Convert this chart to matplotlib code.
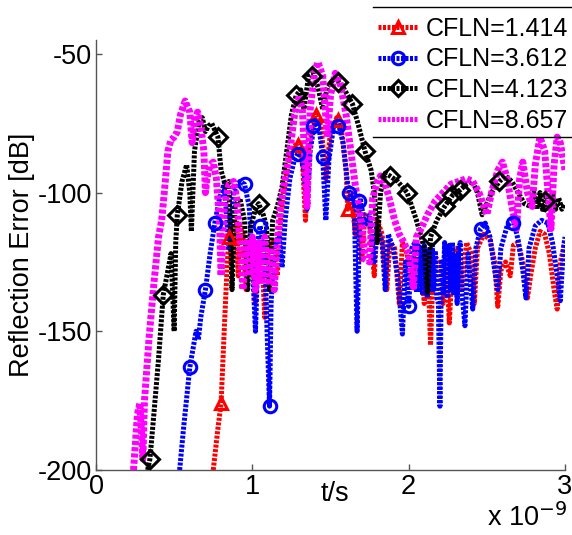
import matplotlib
matplotlib.use("Agg")
import matplotlib.pyplot as plt
from matplotlib.lines import Line2D

plt.rcParams["font.family"] = ["Liberation Sans", "DejaVu Sans"]
plt.rcParams["axes.unicode_minus"] = False

# ---- data: time in units of 1e-9 s, reflection error in dB ----
red_pts = [
    (0.75, -200), (0.78, -185), (0.80, -176), (0.82, -150), (0.84, -125), (0.85, -116),
    (0.86, -112), (0.87, -125), (0.88, -112), (0.90, -110), (0.91, -130), (0.92, -112),
    (0.94, -115), (0.96, -135), (0.98, -118), (1.00, -120), (1.02, -140), (1.04, -118),
    (1.06, -122), (1.08, -145), (1.10, -120), (1.13, -118), (1.16, -130), (1.18, -110),
    (1.20, -100), (1.23, -90), (1.26, -84), (1.29, -82), (1.32, -88), (1.34, -110),
    (1.36, -85), (1.39, -74), (1.41, -72), (1.44, -76), (1.47, -95), (1.50, -78),
    (1.54, -73), (1.57, -77), (1.60, -92), (1.61, -106), (1.63, -100), (1.66, -115),
    (1.68, -105), (1.70, -125), (1.72, -108), (1.75, -112), (1.78, -130), (1.80, -110),
    (1.83, -115), (1.86, -135), (1.88, -118), (1.91, -120), (1.94, -140), (1.96, -118),
    (1.99, -122), (2.02, -135), (2.04, -118), (2.07, -120), (2.10, -140), (2.12, -122),
    (2.14, -155), (2.16, -122), (2.19, -125), (2.22, -140), (2.24, -122), (2.26, -147),
    (2.28, -125), (2.31, -120), (2.34, -135), (2.37, -118), (2.40, -122), (2.42, -140),
    (2.44, -120), (2.48, -115), (2.52, -117), (2.55, -125), (2.57, -141), (2.59, -128),
    (2.62, -125), (2.65, -130), (2.67, -119), (2.70, -118), (2.73, -125), (2.76, -138),
    (2.78, -130), (2.81, -120), (2.84, -114), (2.87, -115), (2.90, -122), (2.93, -135),
    (2.95, -142), (2.97, -125), (3.00, -118),
]
red_marks = [(0.80, -176), (0.85, -116), (1.29, -83), (1.41, -72), (1.55, -74), (1.61, -106)]

blue_pts = [
    (0.535, -200), (0.56, -185), (0.60, -163), (0.64, -150), (0.655, -153), (0.67, -145),
    (0.70, -135), (0.73, -122), (0.76, -111), (0.79, -102), (0.82, -97), (0.85, -120),
    (0.88, -100), (0.92, -96), (0.95, -97), (0.98, -105), (1.00, -125), (1.02, -150),
    (1.04, -115), (1.05, -112), (1.08, -125), (1.10, -160), (1.11, -177), (1.12, -140),
    (1.14, -120), (1.17, -115), (1.19, -127), (1.21, -110), (1.24, -95), (1.27, -88),
    (1.30, -85), (1.33, -92), (1.35, -106), (1.37, -85), (1.40, -74), (1.43, -78),
    (1.45, -87), (1.47, -110), (1.49, -88), (1.52, -76), (1.55, -75), (1.58, -82),
    (1.61, -97), (1.63, -102), (1.65, -100), (1.67, -150), (1.69, -102), (1.72, -112),
    (1.75, -108), (1.78, -125), (1.80, -112), (1.83, -118), (1.85, -135), (1.87, -115),
    (1.90, -120), (1.93, -130), (1.96, -151), (1.98, -125), (2.00, -141), (2.02, -120),
    (2.04, -118), (2.05, -136), (2.06, -119), (2.07, -135), (2.08, -120), (2.09, -137),
    (2.10, -119), (2.11, -134), (2.12, -138), (2.13, -120), (2.14, -136), (2.15, -119),
    (2.16, -135), (2.17, -121), (2.18, -138), (2.19, -140), (2.20, -177), (2.21, -125),
    (2.22, -137), (2.23, -118), (2.24, -136), (2.25, -138), (2.26, -119), (2.27, -135),
    (2.28, -118), (2.29, -137), (2.30, -122), (2.31, -140), (2.32, -120), (2.33, -118),
    (2.34, -136), (2.36, -148), (2.38, -122), (2.41, -142),
    (2.43, -120), (2.46, -113), (2.49, -111), (2.52, -116), (2.55, -128), (2.57, -135),
    (2.59, -120), (2.63, -112), (2.67, -110), (2.70, -117), (2.73, -128), (2.75, -138),
    (2.77, -120), (2.81, -112), (2.85, -110), (2.89, -111), (2.92, -118), (2.95, -130),
    (2.97, -139), (2.99, -120), (3.00, -116),
]
blue_marks = [(0.60, -163), (0.70, -135), (0.76, -111), (0.95, -97), (1.05, -112),
              (1.11, -177), (1.29, -86), (1.39, -76), (1.45, -87), (1.55, -76),
              (1.62, -100), (1.68, -103), (2.00, -141), (2.46, -113), (2.67, -111)]

black_pts = [
    (0.33, -200), (0.345, -196), (0.37, -180), (0.40, -160), (0.43, -137), (0.46, -128),
    (0.48, -122), (0.50, -150), (0.51, -118), (0.52, -108), (0.55, -96), (0.58, -90),
    (0.60, -100), (0.61, -114), (0.63, -85), (0.66, -74), (0.68, -73), (0.70, -78),
    (0.72, -76), (0.74, -75), (0.78, -80), (0.80, -92), (0.83, -98), (0.85, -96),
    (0.87, -135), (0.89, -105), (0.92, -102), (0.95, -110), (0.97, -135), (0.99, -112),
    (1.02, -106), (1.04, -104), (1.07, -108), (1.09, -112), (1.11, -135), (1.13, -110),
    (1.16, -105), (1.19, -98), (1.22, -85), (1.25, -72), (1.28, -65), (1.31, -63),
    (1.33, -70), (1.36, -58), (1.39, -57), (1.42, -62), (1.45, -70), (1.48, -62),
    (1.52, -59), (1.55, -60), (1.58, -62), (1.61, -65), (1.64, -68), (1.68, -76),
    (1.72, -85), (1.76, -92), (1.78, -100), (1.80, -118), (1.82, -100), (1.85, -93),
    (1.88, -94), (1.93, -96), (1.99, -100), (2.05, -110), (2.10, -120), (2.12, -136),
    (2.14, -116), (2.18, -110), (2.23, -105), (2.28, -101), (2.33, -99), (2.37, -97),
    (2.41, -96), (2.44, -100), (2.47, -108), (2.53, -100), (2.58, -96), (2.62, -94),
    (2.66, -96), (2.70, -100), (2.74, -104), (2.78, -105), (2.80, -100), (2.82, -106),
    (2.84, -100), (2.86, -107), (2.88, -101), (2.90, -106), (2.92, -100), (2.94, -106),
    (2.96, -102), (2.98, -106), (3.00, -104),
]
black_marks = [(0.345, -196), (0.43, -137), (0.52, -108), (0.78, -80), (1.04, -104),
               (1.28, -65), (1.38, -58), (1.55, -60), (1.64, -68), (1.72, -85),
               (1.88, -94), (1.99, -100), (2.14, -116), (2.23, -105), (2.28, -101),
               (2.33, -99), (2.58, -96), (2.87, -103)]

magenta_pts = [
    (0.24, -200), (0.265, -180), (0.28, -176), (0.29, -185), (0.30, -196), (0.31, -175),
    (0.34, -152), (0.37, -133), (0.40, -116), (0.42, -110), (0.44, -98), (0.46, -85),
    (0.48, -81), (0.50, -80), (0.52, -78), (0.54, -72), (0.57, -67), (0.60, -71),
    (0.615, -82), (0.63, -74), (0.65, -71), (0.67, -76), (0.69, -85), (0.70, -100),
    (0.71, -95), (0.73, -90), (0.75, -89), (0.77, -95), (0.79, -110), (0.80, -130),
    (0.82, -105), (0.85, -97), (0.88, -96), (0.90, -102), (0.92, -118), (0.94, -135),
    (0.96, -118), (0.98, -130), (1.00, -116), (1.02, -135), (1.04, -118), (1.06, -133),
    (1.08, -116), (1.10, -132), (1.12, -120), (1.14, -135), (1.16, -118), (1.18, -105),
    (1.21, -95), (1.24, -85), (1.27, -72), (1.30, -65), (1.32, -70), (1.35, -105),
    (1.37, -70), (1.40, -56), (1.42, -53), (1.45, -58), (1.48, -80), (1.50, -65),
    (1.53, -57), (1.56, -60), (1.60, -72), (1.63, -85), (1.66, -98), (1.68, -105),
    (1.70, -112), (1.72, -124), (1.75, -125), (1.77, -102), (1.80, -96), (1.82, -94),
    (1.85, -97), (1.88, -103), (1.91, -110), (1.94, -115), (1.97, -118), (2.00, -122),
    (2.03, -134), (2.05, -116), (2.08, -113), (2.12, -108), (2.17, -103), (2.22, -100),
    (2.27, -97), (2.32, -96), (2.37, -95), (2.41, -96), (2.45, -100), (2.50, -108),
    (2.53, -100), (2.57, -92), (2.60, -89), (2.63, -95), (2.66, -105), (2.69, -113),
    (2.71, -95), (2.73, -89), (2.76, -100), (2.79, -105), (2.81, -90), (2.84, -80),
    (2.87, -85), (2.91, -113), (2.93, -90), (2.95, -80), (2.97, -82), (3.00, -92),
]

labels = ["CFLN=1.414", "CFLN=3.612", "CFLN=4.123", "CFLN=8.657"]

# ---- figure ----
W, H = 572, 535
fig = plt.figure(figsize=(W / 100, H / 100), dpi=100)
ax = fig.add_axes([96 / W, 65 / H, (565 - 96) / W, (470 - 40) / H])

dash = (0, (0.6, 0.3))
FS = 19.5     # axis text
LFS = 18      # legend text


def draw(pts, marks, color, lw, marker):
    t = [p[0] for p in pts]
    v = [p[1] for p in pts]
    ax.plot(t, v, color=color, lw=lw, linestyle=dash, dash_capstyle="butt",
            solid_joinstyle="miter", zorder=2)
    if marks:
        mt = [p[0] for p in marks]
        mv = [p[1] for p in marks]
        ax.plot(mt, mv, linestyle="none", marker=marker, ms=9, mfc="none",
                mec=color, mew=2.2, zorder=3)


draw(red_pts, red_marks, "#ff0000", 3.6, "^")
draw(blue_pts, blue_marks, "#0000ff", 3.6, "o")
draw(black_pts, black_marks, "#000000", 3.6, "D")
draw(magenta_pts, None, "#ff00ff", 5.0, None)

ax.set_xlim(0, 3)
ax.set_ylim(-200, -45)
ax.set_xticks([0, 1, 2, 3])
ax.set_xticklabels(["0", "1", "2", "3"])
ax.set_yticks([-200, -150, -100, -50])
ax.set_yticklabels(["-200", "-150", "-100", "-50"])
for s in ("top", "right"):
    ax.spines[s].set_visible(False)
for s in ("left", "bottom"):
    ax.spines[s].set_color("#555555")
    ax.spines[s].set_linewidth(1.0)
ax.tick_params(direction="in", length=4, width=1, color="#555555",
               labelsize=FS, pad=3)

# axis titles and exponent
fig.text(335 / W, 1 - 494 / H, "t/s", fontsize=FS, ha="center", va="center")
fig.text(22 / W, 1 - 255 / H, "Reflection Error [dB]", fontsize=FS,
         rotation=90, ha="center", va="center")
fig.text(567 / W, 1 - 518 / H, r"x 10$^{-9}$", fontsize=FS, ha="right", va="center")

handles = [
    Line2D([], [], color="#ff0000", lw=3.6, linestyle=dash, marker="^", ms=9, mfc="none", mew=2.2),
    Line2D([], [], color="#0000ff", lw=3.6, linestyle=dash, marker="o", ms=9, mfc="none", mew=2.2),
    Line2D([], [], color="#000000", lw=3.6, linestyle=dash, marker="D", ms=8, mfc="none", mew=2.2),
    Line2D([], [], color="#ff00ff", lw=3.6, linestyle=dash),
]
leg = fig.legend(handles, labels, loc="upper left", bbox_to_anchor=(368 / W, 1 - 7 / H),
                 fontsize=LFS, frameon=False, handlelength=1.6,
                 handletextpad=0.3, labelspacing=0.26, borderpad=0.4, borderaxespad=0)

# legend box edges (top and bottom rules)
for yy in (7, 137):
    fig.add_artist(Line2D([373 / W, 1.0], [1 - yy / H, 1 - yy / H],
                          transform=fig.transFigure, color="black", lw=1.0))

fig.savefig("out.png", dpi=100)
